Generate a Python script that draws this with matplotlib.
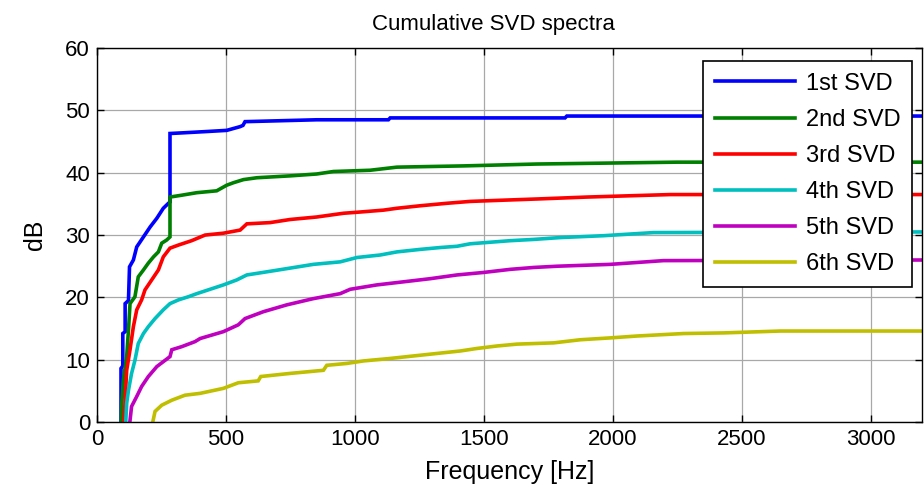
import matplotlib
matplotlib.use("Agg")
import matplotlib.pyplot as plt

plt.rcParams['font.family'] = ['Liberation Sans', 'DejaVu Sans']

# ---- data (frequency in Hz, cumulative level in dB) ----
f1 = [93, 93, 100, 100, 109, 109, 122, 126, 141, 154, 180, 206, 232, 257, 277, 283, 283, 330, 419, 503, 555, 566, 574, 852, 1130, 1137, 1815, 1822, 3200]
v1 = [-2, 8.6, 9.0, 14.2, 14.5, 19.0, 19.5, 24.9, 26.0, 28.1, 29.7, 31.3, 32.7, 34.3, 35.1, 35.3, 46.3, 46.4, 46.6, 46.8, 47.4, 47.6, 48.2, 48.5, 48.5, 48.8, 48.8, 49.1, 49.1]

f2 = [93, 96, 102, 115, 122, 128, 147, 160, 180, 199, 219, 238, 251, 270, 283, 283, 329, 387, 464, 503, 529, 568, 620, 749, 852, 917, 1059, 1163, 1422, 1706, 2250, 3200]
v2 = [-2, 3.0, 6.7, 10.5, 14.8, 19.0, 20.1, 23.3, 24.4, 25.5, 26.5, 27.3, 28.7, 29.2, 29.7, 36.1, 36.4, 36.8, 37.1, 38.0, 38.4, 38.9, 39.2, 39.5, 39.8, 40.2, 40.4, 40.9, 41.1, 41.4, 41.7, 41.7]

f3 = [102, 109, 115, 128, 141, 154, 173, 186, 212, 238, 257, 283, 316, 367, 419, 490, 555, 581, 671, 749, 852, 956, 1021, 1111, 1163, 1253, 1357, 1447, 1577, 1713, 1900, 2224, 3200]
v3 = [-2, 3.5, 8.3, 11.6, 15.3, 18.0, 19.6, 21.2, 22.8, 24.4, 26.5, 27.9, 28.4, 29.1, 30.0, 30.3, 30.8, 31.8, 32.0, 32.5, 32.9, 33.5, 33.7, 34.0, 34.3, 34.7, 35.1, 35.4, 35.6, 35.8, 36.1, 36.5, 36.5]

f4 = [109, 115, 122, 134, 147, 160, 180, 199, 225, 257, 283, 316, 354, 387, 490, 542, 581, 658, 749, 839, 943, 1008, 1098, 1163, 1253, 1331, 1396, 1447, 1603, 1693, 1797, 1965, 2159, 3200]
v4 = [-2, 3.0, 5.1, 7.8, 9.9, 12.6, 14.2, 15.3, 16.6, 18.0, 19.0, 19.6, 20.1, 20.6, 22.0, 22.8, 23.6, 24.1, 24.7, 25.3, 25.7, 26.4, 26.8, 27.3, 27.7, 28.0, 28.2, 28.6, 29.1, 29.3, 29.6, 29.9, 30.4, 30.5]

f5 = [122, 134, 154, 173, 199, 232, 264, 283, 290, 329, 380, 400, 490, 548, 574, 645, 736, 839, 943, 982, 1085, 1189, 1292, 1396, 1499, 1603, 1693, 1784, 1991, 2197, 3200]
v5 = [-2, 2.5, 4.1, 5.7, 7.3, 8.9, 9.9, 10.5, 11.6, 12.1, 12.9, 13.4, 14.5, 15.6, 16.6, 17.7, 18.8, 19.8, 20.6, 21.3, 22.0, 22.5, 23.0, 23.6, 24.0, 24.5, 24.8, 25.0, 25.3, 25.9, 26.0]

f6 = [206, 225, 251, 290, 341, 400, 490, 548, 625, 635, 749, 878, 891, 969, 1033, 1137, 1227, 1318, 1409, 1473, 1551, 1629, 1771, 1874, 1991, 2094, 2275, 2430, 2650, 3200]
v6 = [-2, 1.7, 2.7, 3.5, 4.3, 4.6, 5.4, 6.3, 6.6, 7.3, 7.8, 8.3, 9.1, 9.4, 9.8, 10.2, 10.6, 11.0, 11.4, 11.8, 12.2, 12.5, 12.7, 13.2, 13.5, 13.8, 14.2, 14.3, 14.6, 14.6]

labels = ['1st SVD', '2nd SVD', '3rd SVD', '4th SVD', '5th SVD', '6th SVD']
colors = [(0, 0, 1), (0, 0.5, 0), (1, 0, 0), (0, 0.75, 0.75), (0.75, 0, 0.75), (0.75, 0.75, 0)]
series = [(f1, v1), (f2, v2), (f3, v3), (f4, v4), (f5, v5), (f6, v6)]

xticks = [0, 500, 1000, 1500, 2000, 2500, 3000]
yticks = [0, 10, 20, 30, 40, 50, 60]

fig = plt.figure(figsize=(9.24, 4.91), dpi=100)
ax = fig.add_axes([0.105, 0.1405, 0.893, 0.7615])

for (f, v), c, lab in zip(series, colors, labels):
    ax.plot(f, v, color=c, lw=2.6, label=lab, solid_joinstyle='miter')

ax.set_xlim(0, 3200)
ax.set_ylim(0, 60)
ax.set_xticks(xticks)
ax.set_yticks(yticks)
ax.grid(True, color='#a8a8a8', lw=0.9, ls='-')
ax.set_axisbelow(True)
ax.tick_params(direction='in', top=True, right=True, labelsize=16, length=5, width=1, pad=5)
for s in ax.spines.values():
    s.set_linewidth(1.0)
ax.set_title('Cumulative SVD spectra', fontsize=16, pad=13, x=0.48)
ax.set_xlabel('Frequency [Hz]', fontsize=18, labelpad=7)
ax.set_ylabel('dB', fontsize=18, labelpad=13)

leg = ax.legend(loc='upper right', bbox_to_anchor=(0.988, 0.966), fontsize=17, fancybox=False,
                framealpha=1, edgecolor='black', handlelength=3.4, handletextpad=0.45,
                labelspacing=0.6, borderpad=0.5, borderaxespad=0.0)
leg.get_frame().set_linewidth(1.2)

fig.savefig('out.png', dpi=100)
